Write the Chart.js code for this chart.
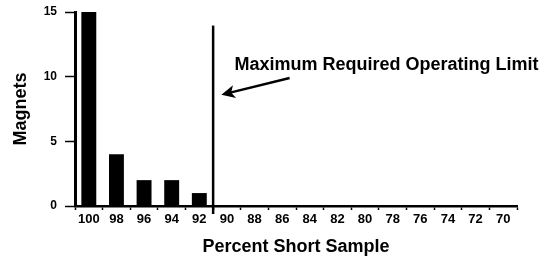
<!DOCTYPE html>
<html>
<head>
<meta charset="utf-8">
<script src="https://cdn.jsdelivr.net/npm/chart.js@4/dist/chart.umd.min.js"></script>
<style>
  html, body { margin: 0; padding: 0; background: #fff; }
  canvas { display: block; }
</style>
</head>
<body>
<canvas id="chart" width="557" height="258"></canvas>
<script>
// data
const categories = ["100", "98", "96", "94", "92", "90", "88", "86", "84", "82", "80", "78", "76", "74", "72", "70"];
const magnets = [15, 4, 2, 2, 1, 0, 0, 0, 0, 0, 0, 0, 0, 0, 0, 0];
const yTicks = [0, 5, 10, 15];

// limit marker, in data units (category index / magnets)
const limitIndex = 4.5;
const limitTop = 13.95;
const limitText = "Maximum Required Operating Limit";
const labelAt = [5.27, 10.9];
const arrowFrom = [7.27, 9.9];
const arrowTo = [4.8, 8.6];

const FONT = "'Liberation Sans', Arial, sans-serif";

const limitPlugin = {
  id: "limitLine",
  afterDatasetsDraw(chart) {
    const { ctx, scales: { x, y } } = chart;
    ctx.save();
    ctx.strokeStyle = "#000";
    ctx.fillStyle = "#000";

    // vertical limit line
    const lx = x.getPixelForValue(limitIndex);
    ctx.lineWidth = 2.5;
    ctx.beginPath();
    ctx.moveTo(lx, y.getPixelForValue(limitTop));
    ctx.lineTo(lx, y.getPixelForValue(0) + 8);
    ctx.stroke();

    // label
    ctx.font = "bold 18px " + FONT;
    ctx.textBaseline = "middle";
    ctx.textAlign = "left";
    ctx.fillText(limitText, x.getPixelForValue(labelAt[0]), y.getPixelForValue(labelAt[1]));

    // arrow
    const x1 = x.getPixelForValue(arrowFrom[0]), y1 = y.getPixelForValue(arrowFrom[1]);
    const x2 = x.getPixelForValue(arrowTo[0]), y2 = y.getPixelForValue(arrowTo[1]);
    const ang = Math.atan2(y2 - y1, x2 - x1);
    ctx.lineWidth = 2.5;
    ctx.beginPath();
    ctx.moveTo(x1, y1);
    ctx.lineTo(x2 - 8 * Math.cos(ang), y2 - 8 * Math.sin(ang));
    ctx.stroke();
    ctx.beginPath();
    ctx.moveTo(x2, y2);
    ctx.lineTo(x2 - 15 * Math.cos(ang - 0.45), y2 - 15 * Math.sin(ang - 0.45));
    ctx.lineTo(x2 - 10 * Math.cos(ang), y2 - 10 * Math.sin(ang));
    ctx.lineTo(x2 - 15 * Math.cos(ang + 0.45), y2 - 15 * Math.sin(ang + 0.45));
    ctx.closePath();
    ctx.fill();
    ctx.restore();
  }
};

new Chart(document.getElementById("chart"), {
  type: "bar",
  data: {
    labels: categories,
    datasets: [{
      data: magnets,
      backgroundColor: "#000",
      borderWidth: 0,
      categoryPercentage: 1,
      barPercentage: 0.54
    }]
  },
  options: {
    responsive: false,
    animation: false,
    layout: { padding: { left: 0, right: 40, top: 12, bottom: 0 } },
    plugins: { legend: { display: false }, tooltip: { enabled: false } },
    scales: {
      x: {
        afterFit(scale) { scale.height = 52; },
        border: { display: true, color: "#000", width: 2.5 },
        grid: { display: true, offset: true, drawOnChartArea: false, drawTicks: true, tickLength: 4, color: "#000", tickWidth: 1.5 },
        ticks: {
          color: "#000",
          padding: 2,
          maxRotation: 0,
          autoSkip: false,
          font: { family: FONT, size: 13, weight: "bold" }
        },
        title: {
          display: true,
          text: "Percent Short Sample",
          color: "#000",
          padding: { top: 0, bottom: 0 },
          font: { family: FONT, size: 18, weight: "bold" }
        }
      },
      y: {
        min: 0,
        max: 15,
        afterFit(scale) {
          scale.width = 75;
          scale.paddingTop = 0;
          scale.paddingBottom = 0;
        },
        afterBuildTicks(scale) { scale.ticks = yTicks.map(v => ({ value: v })); },
        border: { display: true, color: "#000", width: 3 },
        grid: { display: true, drawOnChartArea: false, drawTicks: true, tickLength: 10, color: "#000", tickWidth: 1.5 },
        ticks: {
          color: "#000",
          padding: 8,
          font: { family: FONT, size: 12, weight: "bold" }
        },
        title: {
          display: true,
          text: "Magnets",
          color: "#000",
          padding: { top: 10, bottom: 0 },
          font: { family: FONT, size: 18, weight: "bold" }
        }
      }
    }
  },
  plugins: [limitPlugin]
});
</script>
</body>
</html>
